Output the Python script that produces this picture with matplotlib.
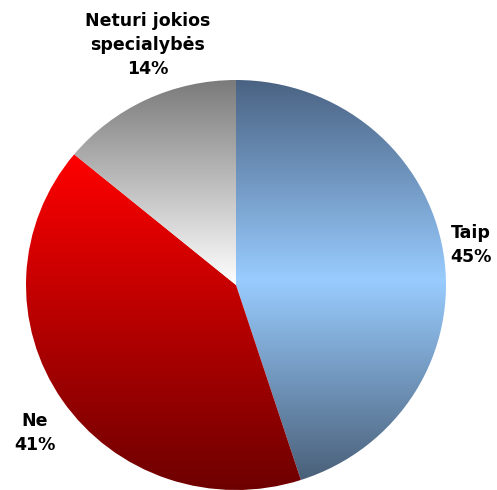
import numpy as np
import matplotlib
matplotlib.use("Agg")
import matplotlib.pyplot as plt
from matplotlib.colors import LinearSegmentedColormap

labels = ["Taip", "Ne", "Neturi jokios\nspecialybės"]
shares = [45, 41, 14]

# vertical gradient for each slice, top colour first
gradients = [
    ["#4a6383", "#99ccff", "#4a6079"],
    ["#ff0000", "#6e0000"],
    ["#7a7a7a", "#ffffff"],
]

W, H = 497, 490
fig = plt.figure(figsize=(W / 100, H / 100), dpi=100)

# pie occupies a slightly squashed ellipse box
cx, cy, rx, ry = 236, 285, 210, 205
ax = fig.add_axes([(cx - rx) / W, (H - cy - ry) / H, 2 * rx / W, 2 * ry / H])

wedges, _ = ax.pie(shares, startangle=90, counterclock=False, radius=1,
                   wedgeprops=dict(linewidth=0))
ax.set_aspect("auto")
ax.axis("off")

grad = np.linspace(0, 1, 256).reshape(-1, 1)
for w, cols in zip(wedges, gradients):
    w.set_facecolor("none")
    ext = w.get_path().get_extents()
    cmap = LinearSegmentedColormap.from_list("g", cols)
    im = ax.imshow(grad, cmap=cmap, aspect="auto", origin="upper",
                   extent=(ext.x0, ext.x1, ext.y0, ext.y1), interpolation="bilinear")
    im.set_clip_path(w)
ax.set_xlim(-1, 1)
ax.set_ylim(-1, 1)

# label positions in pixel coordinates
label_pos = [(471, 245), (35, 433), (148, 45)]
for lab, s, (px, py) in zip(labels, shares, label_pos):
    fig.text(px / W, 1 - py / H, f"{lab}\n{s}%", ha="center", va="center",
             fontsize=12.5, fontweight="bold", family="DejaVu Sans", linespacing=1.4)

fig.savefig("out.png", dpi=100)
